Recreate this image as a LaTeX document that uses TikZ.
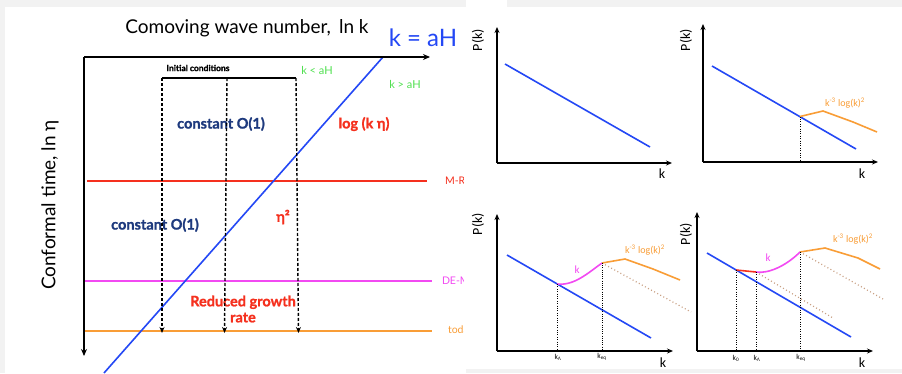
\documentclass[tikz,border=0pt]{standalone}
\usepackage{fontspec}
\setmainfont{Lato}
\newfontfamily\heavyfont[BoldFeatures={FakeBold=1.2}]{Lato}
\newfontfamily\calfont{Carlito}
\usetikzlibrary{arrows.meta}
\definecolor{bgray}{HTML}{F2F2F2}
\definecolor{lineblue}{HTML}{2448F5}
\definecolor{navy}{HTML}{1E3A7E}
\definecolor{myred}{HTML}{F5301E}
\definecolor{mygreen}{HTML}{4EE04E}
\definecolor{mymag}{HTML}{F24AF2}
\definecolor{myorange}{HTML}{F99D36}
\definecolor{mybrown}{HTML}{C9A083}
\tikzset{
  axisL/.style={line width=1.4pt, -{Stealth[length=7pt,width=6pt]}},
  axisR/.style={line width=1.2pt, -{Stealth[length=6pt,width=5pt]}},
  dashv/.style={line width=1.4pt, dash pattern=on 3pt off 2pt, -{Stealth[length=6pt,width=5pt]}},
  dotv/.style={line width=0.7pt, dash pattern=on 0.8pt off 1.6pt},
  dotvd/.style={line width=1pt, dash pattern=on 1pt off 1.2pt},
  dotb/.style={mybrown, line width=1.2pt, dash pattern=on 1pt off 2.5pt},
  txt/.style={inner sep=0pt, outer sep=0pt},
  heavy/.style={txt, font=\heavyfont\bfseries\fontsize{14.5}{16}\selectfont},
  epoch/.style={txt, anchor=west, font=\fontsize{10.5}{10.5}\selectfont},
  lab/.style={txt, font=\calfont\fontsize{14}{14}\selectfont},
  small/.style={txt, font=\calfont\fontsize{10}{10}\selectfont, myorange},
  tick/.style={txt, font=\calfont\fontsize{7.5}{8}\selectfont},
  blueln/.style={lineblue, line width=1.6pt},
  orln/.style={myorange, line width=1.6pt},
  magln/.style={mymag, line width=1.6pt},
}
\begin{document}
\begin{tikzpicture}[x=1pt,y=-1pt]
\fill[bgray] (0,0) rectangle (902,373);
\fill[white] (5,7) rectangle (466,373);
\fill[white] (466,7) rectangle (902,369);
\fill[white] (466,0) rectangle (507,7);
\useasboundingbox (0,0) rectangle (902,373);

% ---------------- left panel ----------------
\node[txt, font=\fontsize{19}{19}\selectfont] (title) at (247,28) {Comoving wave number,\, ln k};
\node[txt, font=\fontsize{24}{24}\selectfont, lineblue] (kaH) at (423,38) {k = aH};
\node[txt, font=\fontsize{19}{19}\selectfont, rotate=90] (ylab) at (50,205) {Conformal time, ln η};

\coordinate (O) at (84,57);
\coordinate (xend) at (430,57);
\coordinate (yend) at (84,356);

% horizontal epoch lines
\coordinate (mr1) at (87,181);  \coordinate (mr2) at (427,181);
\coordinate (de1) at (85,281);  \coordinate (de2) at (432,281);
\coordinate (td1) at (85,331);  \coordinate (td2) at (432,331);
\draw[myred, line width=1.6pt] (mr1) -- (mr2);
\draw[mymag, line width=1.4pt] (de1) -- (de2);
\draw[myorange, line width=2pt] (td1) -- (td2);

\begin{scope}
\clip (0,0) rectangle (463,373);
\node[epoch, myred] (mrl) at (445,181) {M-R};
\node[epoch, mymag] (del) at (442,281) {DE-M};
\node[epoch, myorange] (tdl) at (448,331) {today};
\end{scope}

% horizon crossing line
\coordinate (hb1) at (383,57);
\coordinate (hb2) at (104,373);
\draw[blueln] (hb1) -- (hb2);

\draw[axisL] (O) -- (xend);
\draw[axisL] (O) -- (yend);

\node[txt, font=\heavyfont\bfseries\fontsize{8.5}{9}\selectfont] (ic) at (198,68) {Initial conditions};
\node[txt, font=\fontsize{11}{11}\selectfont, mygreen] (klt) at (317,70) {k < aH};
\node[txt, font=\fontsize{11}{11}\selectfont, mygreen] (kgt) at (405,84) {k > aH};

\node[heavy, navy] (c1) at (221,124) {constant O(1)};
\node[heavy, navy] (c2) at (155,225) {constant O(1)};
\node[heavy, myred] (lke) at (364,124) {log (k η)};
\node[heavy, myred] (eta2) at (283,217) {η²};
\node[heavy, myred, align=center] (rgr) at (243,309) {Reduced growth\\rate};

\coordinate (ica) at (162,78);
\coordinate (icb) at (227,78);
\coordinate (icc) at (296,78);
\draw[line width=1.4pt] (ica) -- (icc);
\coordinate (ea) at (162,333);
\coordinate (eb) at (224.5,333);
\coordinate (ec) at (298.5,333);
\draw[dashv] (ica) -- (ea);
\draw[dashv] (icb) -- (eb);
\draw[dashv] (icc) -- (ec);

% ---------------- panel 1 ----------------
\coordinate (a1o) at (497,163);
\coordinate (a1y) at (497,27);
\coordinate (a1x) at (672,163);
\draw[axisR] (a1o) -- (a1y);
\draw[axisR] (a1o) -- (a1x);
\draw[blueln] (505,64) -- (650,147);
\node[lab] (a1k) at (662,174) {k};
\node[lab, rotate=90] (a1p) at (478,40) {P(k)};

% ---------------- panel 2 ----------------
\coordinate (a2o) at (703,162);
\coordinate (a2y) at (703,24);
\coordinate (a2x) at (878,162);
\draw[axisR] (a2o) -- (a2y);
\draw[axisR] (a2o) -- (a2x);
\draw[blueln] (712,66) -- (856,149);
\coordinate (b2) at (800,116.5);
\draw[orln] (b2) -- (823,111) -- (853,122) -- (877,132);
\draw[dotv] (b2) -- (800,162);
\node[small] (a2s) at (845,103) {k\textsuperscript{-3} log(k)\textsuperscript{2}};
\node[lab] (a2k) at (862,174) {k};
\node[lab, rotate=90] (a2p) at (686,40) {P(k)};

% ---------------- panel 3 ----------------
\coordinate (a3o) at (497,351);
\coordinate (a3y) at (497,214);
\coordinate (a3x) at (673,351);
\draw[axisR] (a3o) -- (a3y);
\draw[axisR] (a3o) -- (a3x);
\draw[blueln] (507,255) -- (651,338);
\coordinate (l3) at (557,284);
\coordinate (e3) at (602,263);
\draw[dotb] (e3) -- (691,312);
\draw[magln] (l3) .. controls (574,286) and (588,273) .. (e3);
\draw[orln] (e3) -- (625,259) -- (653,269) -- (680,280);
\draw[dotv] (l3) -- (557,351);
\draw[dotvd] (e3) -- (602,351);
\node[tick] (a3l) at (558,357) {k\textsubscript{Λ}};
\node[tick] (a3e) at (602,357) {k\textsubscript{eq}};
\node[lab] (a3k) at (663,363) {k};
\node[small] (a3s) at (645,250) {k\textsuperscript{-3} log(k)\textsuperscript{2}};
\node[txt, font=\calfont\fontsize{11}{11}\selectfont, mymag] (a3m) at (577,270) {k};
\node[lab, rotate=90] (a3p) at (478,224) {P(k)};

% ---------------- panel 4 ----------------
\coordinate (a4o) at (697,351);
\coordinate (a4y) at (697,212);
\coordinate (a4x) at (873,351);
\draw[axisR] (a4o) -- (a4y);
\draw[axisR] (a4o) -- (a4x);
\draw[blueln] (707,253) -- (851,337);
\coordinate (z4) at (736,270);
\coordinate (l4) at (756,272);
\coordinate (e4) at (800,252);
\draw[dotb] (l4) -- (833,318);
\draw[dotb] (e4) -- (883,299);
\draw[myred, line width=1.6pt] (z4) -- (l4);
\draw[magln] (l4) .. controls (768,274) and (786,266) .. (e4);
\draw[orln] (e4) -- (825,248) -- (858,258) -- (880,269);
\draw[dotv] (z4) -- (736,351);
\draw[dotv] (l4) -- (756,351);
\draw[dotv] (e4) -- (800,351);
\node[tick] (a4z) at (736,358) {k\textsubscript{0}};
\node[tick] (a4l) at (757,358) {k\textsubscript{Λ}};
\node[tick] (a4e) at (801,358) {k\textsubscript{eq}};
\node[lab] (a4k) at (862,363) {k};
\node[small] (a4s) at (853,239) {k\textsuperscript{-3} log(k)\textsuperscript{2}};
\node[txt, font=\calfont\fontsize{11}{11}\selectfont, mymag] (a4m) at (768,258) {k};
\node[lab, rotate=90] (a4p) at (686,234) {P(k)};
\end{tikzpicture}
\end{document}
